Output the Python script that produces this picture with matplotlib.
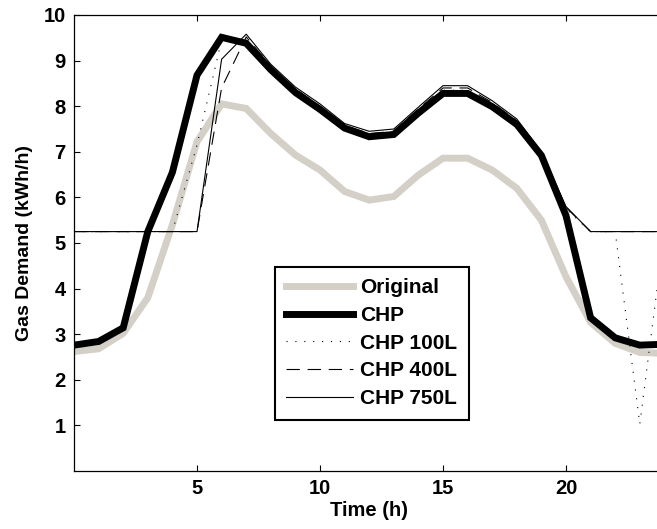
import numpy as np
import matplotlib
matplotlib.use("Agg")
import matplotlib.pyplot as plt

plt.rcParams['font.family'] = ['Liberation Sans', 'DejaVu Sans']
plt.rcParams['font.weight'] = 'bold'

hours = list(range(0, 25))
original = [2.62, 2.68, 3.02, 3.8, 5.4, 7.22, 8.05, 7.95, 7.4, 6.93, 6.6, 6.13, 5.94,
            6.02, 6.49, 6.86, 6.86, 6.6, 6.2, 5.5, 4.26, 3.26, 2.8, 2.6, 2.58]
chp = [2.76, 2.84, 3.14, 5.25, 6.55, 8.68, 9.51, 9.38, 8.8, 8.3, 7.93, 7.52, 7.33,
       7.38, 7.85, 8.28, 8.28, 7.99, 7.6, 6.92, 5.6, 3.36, 2.92, 2.76, 2.78]
chp_100 = [5.25, 5.25, 5.25, 5.25, 5.25, 7.15, 9.45, 9.45, 8.85, 8.35, 7.97, 7.55, 7.37,
           7.42, 7.9, 8.35, 8.35, 8.05, 7.65, 6.95, 5.75, 5.25, 5.25, 1.03, 5.25]
chp_400 = [5.25, 5.25, 5.25, 5.25, 5.25, 5.25, 8.4, 9.52, 8.88, 8.38, 8.0, 7.58, 7.4,
           7.45, 7.94, 8.4, 8.4, 8.08, 7.68, 6.97, 5.78, 5.25, 5.25, 5.25, 5.25]
chp_750 = [5.25, 5.25, 5.25, 5.25, 5.25, 5.25, 9.03, 9.58, 8.92, 8.42, 8.05, 7.62, 7.45,
           7.5, 7.98, 8.45, 8.45, 8.12, 7.72, 7.0, 5.8, 5.25, 5.25, 5.25, 5.25]

W, H = 657, 529
fig = plt.figure(figsize=(W / 100, H / 100), dpi=100)
# axes run to x=24, the right side is cut off by the figure edge like the original
ax = fig.add_axes([74 / W, (H - 471) / H, 590.4 / W, 456 / H])

ax.plot(hours, original, color='#d4d0c8', lw=5, label='Original', solid_joinstyle='miter')
ax.plot(hours, chp, color='black', lw=5, label='CHP', solid_joinstyle='miter')
ax.plot(hours, chp_100, color='black', lw=0.8, ls=(0, (1, 7)), label='CHP 100L')
ax.plot(hours, chp_400, color='black', lw=0.8, ls=(0, (12, 7)), label='CHP 400L')
ax.plot(hours, chp_750, color='black', lw=0.8, label='CHP 750L')

ax.set_xlim(0, 24)
ax.set_ylim(0, 10)
ax.set_xticks([5, 10, 15, 20])
ax.set_yticks(range(1, 11))
ax.tick_params(direction='in', top=True, right=True, length=4, labelsize=14.5, pad=6)
for s in ax.spines.values():
    s.set_linewidth(0.9)

ax.set_xlabel('Time (h)', fontsize=14.5, fontweight='bold')
ax.set_ylabel('Gas Demand (kWh/h)', fontsize=14, fontweight='bold')
ax.xaxis.set_label_coords(0.5, -0.066)
ax.yaxis.set_label_coords(-0.07, 0.5)

leg = ax.legend(loc='upper left', bbox_to_anchor=(275 / W, 1 - 266.7 / H),
                bbox_transform=fig.transFigure, borderaxespad=0, fontsize=15,
                handlelength=3.2, handletextpad=0.35, labelspacing=0.42,
                borderpad=0.55, fancybox=False, framealpha=1, edgecolor='black')
leg.get_frame().set_linewidth(1.5)

fig.savefig('out.png', dpi=100)
